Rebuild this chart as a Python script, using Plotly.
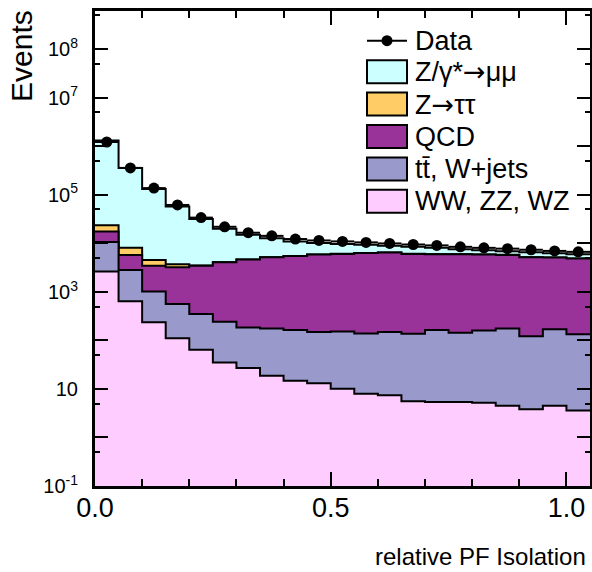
import numpy as np
import plotly.graph_objects as go

# ---------------- data ----------------
bin_edges = [0.00, 0.05, 0.10, 0.15, 0.20, 0.25, 0.30, 0.35, 0.40, 0.45, 0.50,
             0.55, 0.60, 0.65, 0.70, 0.75, 0.80, 0.85, 0.90, 0.95, 1.00, 1.05]

data_events = [1.23e6, 3.6e5, 1.38e5, 6.2e4, 3.4e4, 2.2e4, 1.66e4, 1.43e4, 1.23e4,
               1.15e4, 1.10e4, 1.05e4, 1.0e4, 9.5e3, 9.1e3, 8.5e3, 8.1e3, 7.8e3,
               7.4e3, 7.0e3, 6.7e3]

ww_zz_wz = [2630, 646, 237, 111, 64, 35, 27, 18.8, 14.8, 13.1, 10.1, 8.0, 7.4,
            5.6, 5.4, 5.4, 5.2, 4.5, 3.8, 4.5, 3.6]
ttbar_wjets = [8070, 2170, 786, 454, 288, 209, 158, 158, 150, 137, 143, 131, 142,
               131, 158, 139, 155, 172, 118, 166, 131]
qcd = [6800, 2940, 2444, 2671, 3115, 3830, 4474, 5023, 5355, 5725, 5927, 6231,
       6310, 5944, 5822, 5841, 5714, 5618, 5078, 4925, 4730]
z_tautau = [6200, 2370, 1104, 479, 40, 20, 10, 10, 10, 10, 10, 10, 10, 10, 10,
            10, 10, 10, 10, 10, 10]
z_mumu = [1.296e6, 3.52e5, 1.274e5, 5.38e4, 28490, 15910, 10430, 7525, 5435,
          4348, 3682, 2953, 2443, 2421, 2133, 1591, 1359, 1113, 1397, 1132, 1082]

ARROW = '<span style="font-family:DejaVu Sans">→</span>'
legend_names = ["Z/γ*" + ARROW + "μμ", "Z" + ARROW + "ττ", "QCD",
                "tt\u0304, W+jets", "WW, ZZ, WZ"]
y_label_vals = [1e-1, 10, 1e3, 1e5, 1e7, 1e8]
y_label_text = ["10<sup>-1</sup>", "10", "10<sup>3</sup>", "10<sup>5</sup>",
                "10<sup>7</sup>", "10<sup>8</sup>"]
y_unlabeled_vals = [1, 1e2, 1e4, 1e6]
y_minor_vals = [5e-1, 5, 50, 5e2, 5e3, 5e4, 5e5, 5e6, 5e7, 5e8]
x_tick_vals = [0.0, 0.5, 1.0]

# ---------------- styling ----------------
FONT = "Liberation Sans, Arial, Helvetica, sans-serif"
colors = ["#CCFFFF", "#FFCC66", "#993399", "#9999CC", "#FFCCFF"]

W, H = 592, 572
L, R, T, B = 95, 2, 11, 86
PW, PH = W - L - R, H - T - B


def fx(px):
    return (px - L) / PW


def fy(py):
    return (H - B - py) / PH


edges = np.array(bin_edges)
centers = (edges[:-1] + edges[1:]) / 2
half_w = (edges[1:] - edges[:-1]) / 2

comps_bottom_up = [np.array(ww_zz_wz), np.array(ttbar_wjets), np.array(qcd),
                   np.array(z_tautau), np.array(z_mumu)]
cum = np.cumsum(np.vstack(comps_bottom_up), axis=0)
draw_stacks = [cum[4], cum[3], cum[2], cum[1], cum[0]]

fig = go.Figure()
for vals, col, name in zip(draw_stacks, colors, legend_names):
    yv = np.append(vals, vals[-1])
    fig.add_trace(go.Scatter(
        x=edges, y=yv, mode="lines", line=dict(shape="hv", color="black", width=2),
        fill="tozeroy", fillcolor=col, name=name, showlegend=False,
        hoverinfo="skip"))

fig.add_trace(go.Scatter(
    x=centers, y=data_events, mode="markers", name="Data", showlegend=False,
    marker=dict(color="black", size=11),
    error_x=dict(type="data", array=half_w, color="black", thickness=2, width=0)))

# empty helper trace so the overlay axis (unlabeled decade ticks) is drawn
fig.add_trace(go.Scatter(x=[None], y=[None], yaxis="y2", showlegend=False,
                         hoverinfo="skip"))

# ---------------- manual legend (ROOT style) ----------------
shapes = []
annotations = []
box_x0, box_x1 = 367, 407
text_x = 413
row_data = 40.7
row0, row_step = 71.7, 32.4
box_h = 23
LEG_SIZE = 27

shapes.append(dict(type="line", xref="paper", yref="paper",
                   x0=fx(box_x0), x1=fx(box_x1), y0=fy(row_data), y1=fy(row_data),
                   line=dict(color="black", width=2)))
shapes.append(dict(type="circle", xref="paper", yref="paper",
                   xsizemode="pixel", ysizemode="pixel",
                   xanchor=fx((box_x0 + box_x1) / 2), yanchor=fy(row_data),
                   x0=-5.5, x1=5.5, y0=-5.5, y1=5.5,
                   fillcolor="black", line=dict(color="black", width=0)))
annotations.append(dict(text="Data", xref="paper", yref="paper",
                        x=fx(text_x), y=fy(row_data), xanchor="left", yanchor="middle",
                        showarrow=False,
                        font=dict(family=FONT, size=LEG_SIZE, color="black")))
for i, (name, col) in enumerate(zip(legend_names, colors)):
    yc = row0 + i * row_step
    shapes.append(dict(type="rect", xref="paper", yref="paper",
                       x0=fx(box_x0), x1=fx(box_x1),
                       y0=fy(yc - box_h / 2), y1=fy(yc + box_h / 2),
                       fillcolor=col, line=dict(color="black", width=2)))
    annotations.append(dict(text=name, xref="paper", yref="paper",
                            x=fx(text_x), y=fy(yc), xanchor="left", yanchor="middle",
                            showarrow=False,
                            font=dict(family=FONT, size=LEG_SIZE, color="black")))

annotations.append(dict(text="relative PF Isolation", xref="paper", yref="paper",
                        x=fx(588), y=fy(556), xanchor="right", yanchor="middle",
                        showarrow=False, font=dict(family=FONT, size=24, color="black")))
annotations.append(dict(text="Events", xref="paper", yref="paper", textangle=-90,
                        x=fx(22), y=fy(8), xanchor="center", yanchor="top",
                        showarrow=False, font=dict(family=FONT, size=30, color="black")))

fig.update_layout(
    width=W, height=H,
    margin=dict(l=L, r=R, t=T, b=B, pad=0, autoexpand=False),
    paper_bgcolor="white", plot_bgcolor="white",
    font=dict(family=FONT, color="black"),
    shapes=shapes, annotations=annotations,
    showlegend=False,
    yaxis2=dict(type="log", range=[-1, 8.79], overlaying="y", side="left",
                anchor="x", automargin=False,
                showgrid=False, zeroline=False, showline=False, mirror="ticks",
                ticks="inside", ticklen=13, tickwidth=2, tickcolor="black",
                tickmode="array", tickvals=y_unlabeled_vals, showticklabels=False),
)
fig.update_xaxes(
    range=[bin_edges[0], bin_edges[-1]], showgrid=False, zeroline=False,
    automargin=False,
    showline=True, linecolor="black", linewidth=3, mirror="ticks",
    ticks="inside", ticklen=14, tickwidth=2, tickcolor="black",
    tickmode="array", tickvals=x_tick_vals, tickformat=".1f",
    tickfont=dict(family=FONT, size=27), ticklabelstandoff=-4,
    minor=dict(ticks="inside", ticklen=7, tickwidth=2, tickcolor="black",
               dtick=0.1, tick0=0, showgrid=False),
)
fig.layout.yaxis.update(
    type="log", range=[-1, 8.79], showgrid=False, zeroline=False,
    automargin=False,
    showline=True, linecolor="black", linewidth=3, mirror="ticks",
    ticks="inside", ticklen=13, tickwidth=2, tickcolor="black",
    tickmode="array", tickvals=y_label_vals, ticktext=y_label_text,
    tickfont=dict(family=FONT, size=20), ticklabelstandoff=10,
    minor=dict(ticks="inside", ticklen=5, tickwidth=2, tickcolor="black",
               tickmode="array", tickvals=y_minor_vals, showgrid=False),
)

fig.write_html("out.html", config={"displayModeBar": False},
               post_script="document.body.style.margin='0px';"
                           "document.body.style.overflow='hidden';")
